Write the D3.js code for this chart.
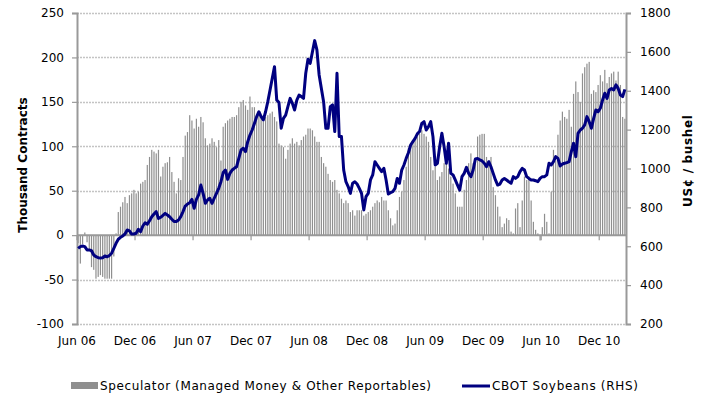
<!DOCTYPE html>
<html>
<head>
<meta charset="utf-8">
<script src="https://cdn.jsdelivr.net/npm/d3@7"></script>
<style>
  html, body { margin: 0; padding: 0; background: #fff; }
  svg { display: block; font-family: "DejaVu Sans", Verdana, sans-serif; }
</style>
</head>
<body>
<svg id="chart" width="707" height="401"></svg>
<script>
// ---- Data (weekly, Jun 2006 - Feb 2011) ----
const specPositions = [
  -9,-32,-10,3,-8,-17,-36,-39,-49,-47,-45,-47,-49,-49,-49,-49,-24,2,26,32,37,43,36,45,47,51,47,49,58,60,62,79,88,96,94,92,96,66,77,81,82,88,71,60,47,64,62,88,112,116,135,129,120,131,122,133,127,109,101,103,109,105,
  99,107,84,122,126,129,131,133,133,135,144,150,152,146,141,156,144,144,133,139,135,128,133,135,137,139,133,128,103,101,99,86,96,103,109,103,105,101,107,111,113,120,120,118,111,105,105,88,81,77,69,62,60,62,51,47,41,36,39,36,26,28,
  22,28,28,28,22,24,26,28,32,36,39,37,43,39,39,28,19,11,13,28,43,49,62,77,98,103,107,107,111,114,118,114,111,105,88,73,77,62,66,71,81,82,75,66,58,47,32,32,32,51,62,81,92,81,86,111,113,114,114,88,84,88,
  54,45,32,21,9,13,19,17,4,2,30,36,9,39,66,62,66,39,15,6,2,-6,9,24,15,2,49,96,84,113,129,139,133,131,141,122,159,173,161,150,182,189,193,195,159,163,161,169,180,173,186,171,178,182,184,174,184,169,133,131
];
const soyPrice = [
  589,598,601,598,581,581,577,555,546,541,540,541,550,546,552,564,589,615,636,646,653,663,684,679,663,663,667,687,675,704,721,713,731,752,766,778,743,749,759,769,761,752,739,727,727,735,752,778,807,817,824,841,795,841,864,915,872,821,838,847,821,847,
  872,898,932,979,992,944,975,992,1001,1009,1052,1095,1104,1087,1138,1172,1198,1232,1267,1292,1267,1250,1292,1344,1404,1464,1524,1352,1339,1207,1258,1275,1318,1361,1335,1301,1352,1378,1370,1361,1490,1562,1541,1601,1658,1610,1481,1412,1344,1207,1207,1318,1327,1190,1490,1164,1164,992,932,907,872,924,
  932,920,898,872,787,855,872,941,967,1035,1018,1001,984,1001,941,869,876,881,898,949,924,992,1018,1052,1081,1121,1138,1155,1178,1190,1232,1241,1198,1215,1241,1164,1018,1027,1112,1181,1112,1027,1130,975,967,941,915,889,958,975,1006,975,958,992,1049,1052,1044,1039,1027,1009,1035,1009,
  975,941,915,920,941,949,941,932,924,958,949,958,984,1001,992,958,949,941,941,937,932,949,958,958,967,1027,1018,1035,1061,1052,1013,1023,1027,1030,1035,1087,1130,1061,1181,1198,1207,1224,1267,1241,1207,1258,1301,1292,1310,1352,1387,1361,1404,1412,1404,1430,1412,1378,1370,1407
];
const xTickLabels = ["Jun 06","Dec 06","Jun 07","Dec 07","Jun 08","Dec 08","Jun 09","Dec 09","Jun 10","Dec 10"];
const weeksPerLabel = 26;
const leftTicks = [-100,-50,0,50,100,150,200,250];
const rightTicks = [200,400,600,800,1000,1200,1400,1600,1800];
const seriesNames = ["Speculator (Managed Money & Other Reportables)", "CBOT Soybeans (RHS)"];

// ---- Layout ----
const svg = d3.select("#chart");
const L = 77, R = 626, T = 13, B = 324;
const n = specPositions.length;
const x = d3.scaleBand().domain(d3.range(n)).range([L, R]);
const yL = d3.scaleLinear().domain([-100, 250]).range([B, T]);
const yR = d3.scaleLinear().domain([200, 1800]).range([B, T]);
const axisColor = "#999";

// gridlines
svg.append("g").selectAll("line")
  .data(leftTicks.filter(d => d !== 0))
  .join("line")
  .attr("x1", L).attr("x2", R)
  .attr("y1", d => Math.round(yL(d)) + 0.5).attr("y2", d => Math.round(yL(d)) + 0.5)
  .attr("stroke", "#c4c4c4").attr("stroke-width", 1.3).attr("stroke-dasharray", "2,1");

// bars
svg.append("g").selectAll("rect")
  .data(specPositions)
  .join("rect")
  .attr("x", (d, i) => x(i) + x.bandwidth() / 2 - 0.6)
  .attr("width", 1.2)
  .attr("y", d => yL(Math.max(0, d)))
  .attr("height", d => Math.abs(yL(d) - yL(0)))
  .attr("fill", "#8f8f8f");

// x axis (at zero)
const y0 = yL(0);
const gx = svg.append("g");
gx.append("line").attr("x1", L).attr("x2", R).attr("y1", y0).attr("y2", y0)
  .attr("stroke", axisColor).attr("stroke-width", 2);
const tickIdx = xTickLabels.map((d, k) => k * weeksPerLabel);
gx.selectAll("line.tk").data(tickIdx).join("line").attr("class", "tk")
  .attr("x1", i => x(i)).attr("x2", i => x(i))
  .attr("y1", y0).attr("y2", y0 + 5)
  .attr("stroke", axisColor).attr("stroke-width", 1.2);
svg.append("g").selectAll("text").data(xTickLabels).join("text")
  .attr("x", (d, k) => x(tickIdx[k]))
  .attr("y", 345)
  .attr("text-anchor", "middle")
  .attr("font-size", 12).attr("fill", "#000")
  .text(d => d);

// left axis
const gl = svg.append("g").attr("transform", `translate(${L},0)`)
  .call(d3.axisLeft(yL).tickValues(leftTicks).tickSize(5).tickPadding(8).tickFormat(d => String(d)));
gl.select(".domain").attr("stroke", axisColor).attr("stroke-width", 2);
gl.selectAll(".tick line").attr("stroke", axisColor).attr("stroke-width", 1.2);
gl.selectAll(".tick text").attr("font-size", 12).attr("font-family", "DejaVu Sans").attr("fill", "#000");

// right axis
const gr = svg.append("g").attr("transform", `translate(${R},0)`)
  .call(d3.axisRight(yR).tickValues(rightTicks).tickSize(5).tickPadding(9).tickFormat(d => String(d)));
gr.select(".domain").attr("stroke", axisColor).attr("stroke-width", 2);
gr.selectAll(".tick line").attr("stroke", axisColor).attr("stroke-width", 1.2);
gr.selectAll(".tick text").attr("font-size", 12).attr("font-family", "DejaVu Sans").attr("fill", "#000");

// line
const line = d3.line()
  .x((d, i) => x(i) + x.bandwidth() / 2)
  .y(d => yR(d));
svg.append("path").datum(soyPrice)
  .attr("d", line)
  .attr("fill", "none")
  .attr("stroke", "#000080")
  .attr("stroke-width", 3)
  .attr("stroke-linejoin", "round");

// axis titles
svg.append("text")
  .attr("transform", "translate(27,165) rotate(-90)")
  .attr("text-anchor", "middle")
  .attr("font-size", 12).attr("font-weight", "bold")
  .text("Thousand Contracts");
svg.append("text")
  .attr("transform", "translate(692,161) rotate(-90)")
  .attr("text-anchor", "middle")
  .attr("font-size", 12).attr("font-weight", "bold")
  .attr("textLength", 92).attr("lengthAdjust", "spacing")
  .text("US¢ / bushel");

// legend
const lg = svg.append("g");
lg.append("rect").attr("x", 71).attr("y", 382).attr("width", 27).attr("height", 7).attr("fill", "#8f8f8f");
lg.append("text").attr("x", 100).attr("y", 390).attr("font-size", 12)
  .attr("textLength", 331).attr("lengthAdjust", "spacing").text(seriesNames[0]);
lg.append("line").attr("x1", 462).attr("x2", 490).attr("y1", 386).attr("y2", 386)
  .attr("stroke", "#000080").attr("stroke-width", 3);
lg.append("text").attr("x", 492).attr("y", 390).attr("font-size", 12)
  .attr("textLength", 146).attr("lengthAdjust", "spacing").text(seriesNames[1]);
</script>
</body>
</html>
